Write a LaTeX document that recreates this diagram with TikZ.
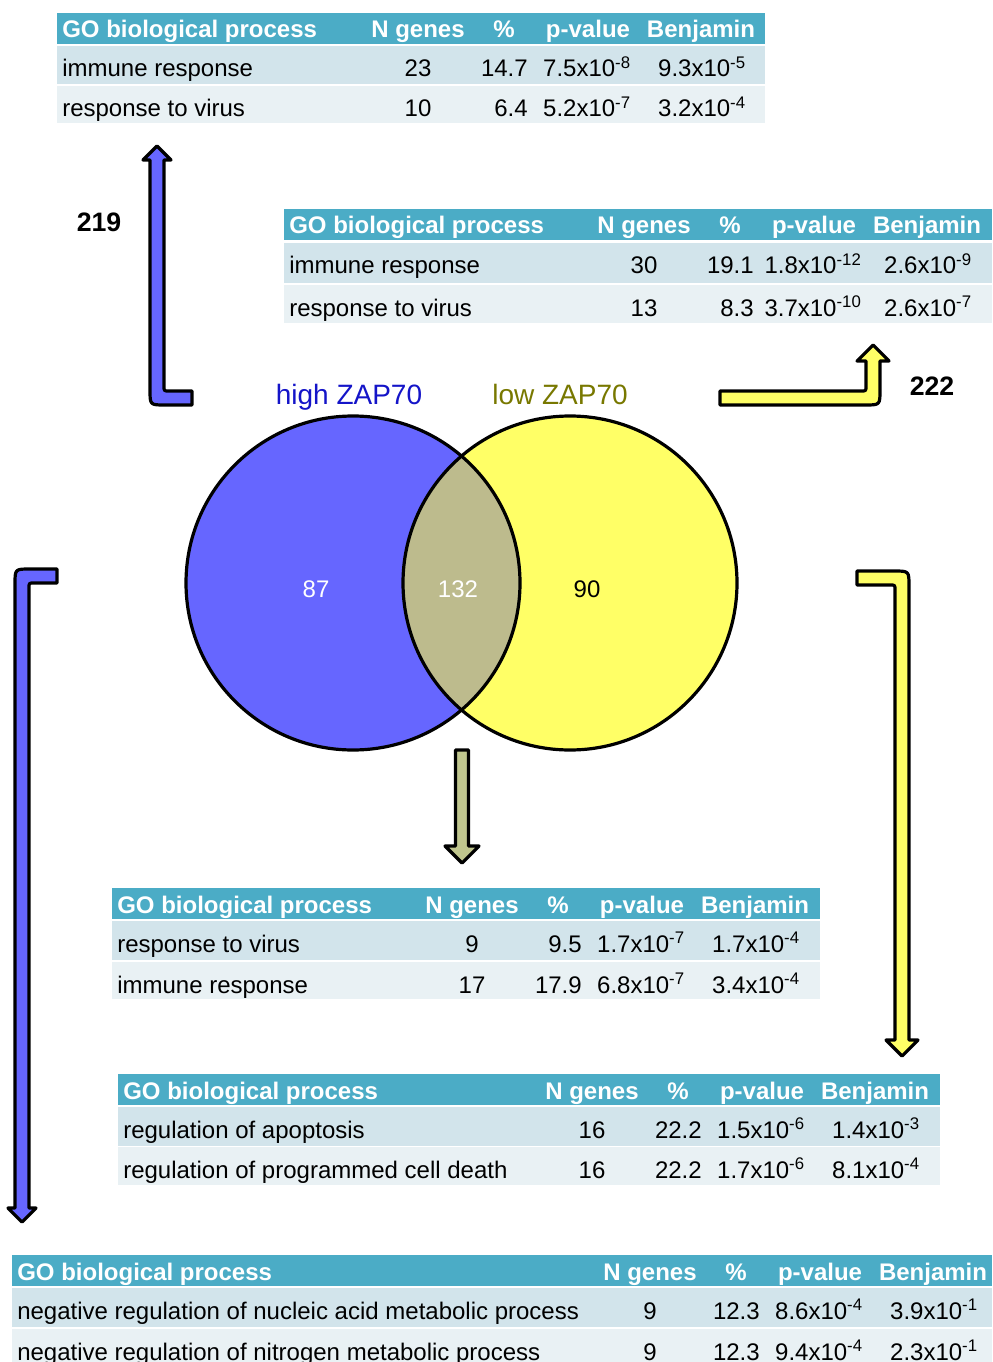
\documentclass[tikz,border=0pt]{standalone}
\usepackage{fontspec}
\setmainfont{Liberation Sans}
\usetikzlibrary{positioning}
\definecolor{zapblue}{RGB}{102,102,255}
\definecolor{zapyellow}{RGB}{255,255,102}
\definecolor{zapboth}{RGB}{189,187,141}
\definecolor{zaparrow}{RGB}{192,198,142}
\definecolor{headteal}{RGB}{75,172,198}
\definecolor{rowdark}{RGB}{210,228,235}
\definecolor{rowlight}{RGB}{233,241,244}
\definecolor{highblue}{RGB}{20,20,200}
\definecolor{lowolive}{RGB}{120,120,0}

\tikzset{
    headband/.style={fill=headteal},
    bandA/.style={fill=rowdark},
    bandB/.style={fill=rowlight},
    headcell/.style={anchor=base, inner sep=0pt, text=white, font=\bfseries\fontsize{18}{20}\selectfont},
    bodycell/.style={anchor=base, inner sep=0pt, font=\fontsize{18}{20}\selectfont},
    countlabel/.style={anchor=base, inner sep=0pt, font=\fontsize{18}{20}\selectfont},
    setlabel/.style={anchor=base, inner sep=0pt, font=\fontsize{21}{24}\selectfont},
    sizelabel/.style={anchor=base, inner sep=0pt, font=\bfseries\fontsize{20}{24}\selectfont},
    arrowbody/.style={draw=black, line width=2.4pt, line join=round},
    vennline/.style={draw=black, line width=2.4pt},
}

\newcommand{\sci}[2]{#1x10\textsuperscript{#2}}
% header of one GO table: id, left, top, start of N genes column, right
\newcommand{\gohead}[5]{%
    \def\gol{#2}\def\gor{#5}\def\goc{#4}
    \fill[headband] (#2,#3) rectangle (#5,#3+31);
    \node[headcell, anchor=base west] (#1h) at (#2+5,#3+25) {GO biological process};
    \node[headcell] (#1hn) at (#4+48,#3+25) {N genes};
    \node[headcell] (#1hpc) at (#4+134,#3+25) {\%};
    \node[headcell] (#1hp) at (#4+218,#3+25) {p-value};
    \node[headcell] (#1hb) at (#4+331,#3+25) {Benjamin};
}
% one row: id, band, top, height, term, N, %, p-value, Benjamin
\newcommand{\gorow}[9]{%
    \fill[#2] (\gol,#3) rectangle (\gor,#3+#4);
    \node[bodycell, anchor=base west] (#1t) at (\gol+5,#3+31) {#5};
    \node[bodycell] (#1n) at (\goc+48,#3+31) {#6};
    \node[bodycell, anchor=base east] (#1pc) at (\goc+158,#3+31) {#7};
    \node[bodycell] (#1p) at (\goc+217,#3+31) {#8};
    \node[bodycell] (#1b) at (\goc+332,#3+31) {#9};
}

\begin{document}
\begin{tikzpicture}[x=0.75pt, y=-0.75pt]
    \useasboundingbox (0,0) rectangle (992,1362);

    % venn diagram
    \fill[zapblue] (353,583) circle (125.25pt);
    \fill[zapyellow] (570,583) circle (125.25pt);
    \begin{scope}
        \clip (353,583) circle (125.25pt);
        \fill[zapboth] (570,583) circle (125.25pt);
    \end{scope}
    \draw[vennline] (353,583) circle (125.25pt);
    \draw[vennline] (570,583) circle (125.25pt);

    \node[countlabel, text=white] (only-high) at (316,597) {87};
    \node[countlabel, text=white] (both) at (458,597) {132};
    \node[countlabel] (only-low) at (587,597) {90};
    \node[setlabel, text=highblue] (high) at (349,404) {high ZAP70};
    \node[setlabel, text=lowolive] (low) at (560,404) {low ZAP70};

    % arrows
    \draw[arrowbody, fill=zapblue] (192,391) -- (169,391) .. controls (164,391) .. (164,386) -- (164,160)
        -- (171,160) -- (157,146) -- (143,160) -- (150,160) -- (150,390) .. controls (150,405) .. (165,405)
        -- (192,405) -- cycle;
    \draw[arrowbody, fill=zapyellow] (720,391) -- (861,391) .. controls (866,391) .. (866,386) -- (866,361)
        -- (857,361) -- (873,345) -- (889,361) -- (880,361) -- (880,390) .. controls (880,405) .. (865,405)
        -- (720,405) -- cycle;
    \draw[arrowbody, fill=zapblue] (57,569) -- (30,569) .. controls (15,569) .. (15,584) -- (15,1208)
        -- (8,1208) -- (22,1222) -- (36,1208) -- (29,1208) -- (29,588) .. controls (29,583) .. (34,583)
        -- (57,583) -- cycle;
    \draw[arrowbody, fill=zapyellow] (857,571) -- (894,571) .. controls (909,571) .. (909,586) -- (909,1040)
        -- (918,1040) -- (902,1056) -- (886,1040) -- (895,1040) -- (895,590) .. controls (895,585) .. (890,585)
        -- (857,585) -- cycle;
    \draw[arrowbody, fill=zaparrow] (455.5,750) -- (455.5,846) -- (445,846) -- (462,863) -- (479,846)
        -- (468.5,846) -- (468.5,750) -- cycle;

    \node[sizelabel] (n219) at (99,232) {219};
    \node[sizelabel] (n222) at (932,395) {222};

    % tables
    \gohead{ta}{57}{13}{370}{765}
    \gorow{ta1}{bandA}{46}{38}{immune response}{23}{14.7}{\sci{7.5}{-8}}{\sci{9.3}{-5}}
    \gorow{ta2}{bandB}{86}{37}{response to virus}{10}{6.4}{\sci{5.2}{-7}}{\sci{3.2}{-4}}

    \gohead{tb}{284}{209}{596}{992}
    \gorow{tb1}{bandA}{243}{40}{immune response}{30}{19.1}{\sci{1.8}{-12}}{\sci{2.6}{-9}}
    \gorow{tb2}{bandB}{285}{38}{response to virus}{13}{8.3}{\sci{3.7}{-10}}{\sci{2.6}{-7}}

    \gohead{tc}{112}{888}{424}{820}
    \gorow{tc1}{bandA}{921}{39}{response to virus}{9}{9.5}{\sci{1.7}{-7}}{\sci{1.7}{-4}}
    \gorow{tc2}{bandB}{962}{37}{immune response}{17}{17.9}{\sci{6.8}{-7}}{\sci{3.4}{-4}}

    \gohead{td}{118}{1074}{544}{940}
    \gorow{td1}{bandA}{1107}{39}{regulation of apoptosis}{16}{22.2}{\sci{1.5}{-6}}{\sci{1.4}{-3}}
    \gorow{td2}{bandB}{1147}{38}{regulation of programmed cell death}{16}{22.2}{\sci{1.7}{-6}}{\sci{8.1}{-4}}

    \gohead{te}{12}{1255}{602}{992}
    \gorow{te1}{bandA}{1288}{39}{negative regulation of nucleic acid metabolic process}{9}{12.3}{\sci{8.6}{-4}}{\sci{3.9}{-1}}
    \gorow{te2}{bandB}{1329}{40}{negative regulation of nitrogen metabolic process}{9}{12.3}{\sci{9.4}{-4}}{\sci{2.3}{-1}}
\end{tikzpicture}
\end{document}
